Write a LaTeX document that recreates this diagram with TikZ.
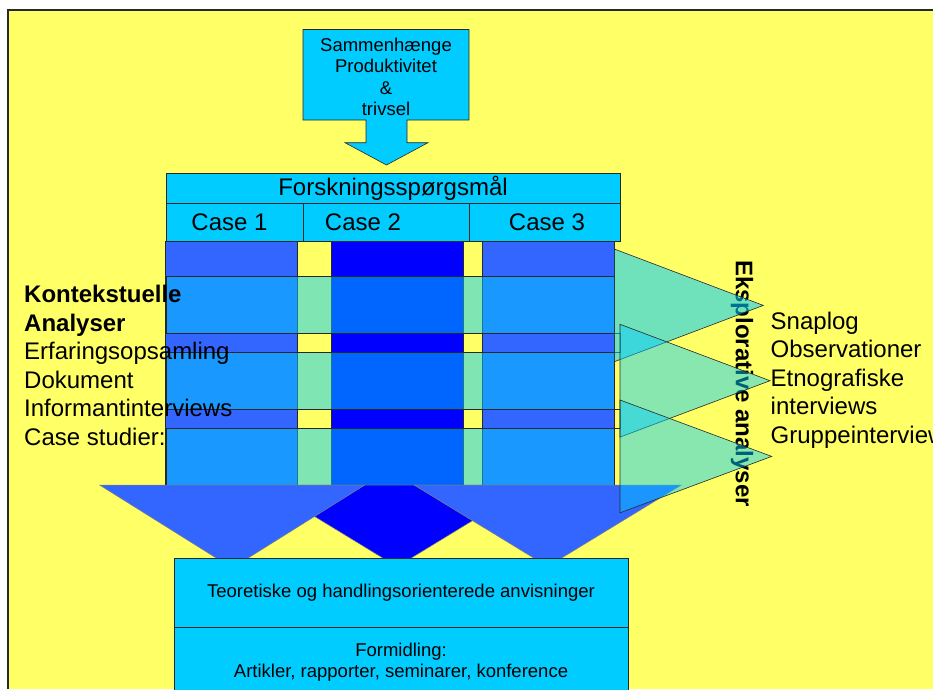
\documentclass[tikz,border=0pt]{standalone}
\usepackage{fontspec}
\setmainfont{Liberation Sans}
\usetikzlibrary{
    positioning,
    calc
}
\tikzset{
  cell/.style    = {draw=EdgeGray, fill=SlideCyan, line width=0.6pt, inner sep=0pt,
                    outer sep=0pt, align=center, font=\fontsize{24}{28.5}\selectfont},
  sblock/.style  = {draw=EdgeGray, fill=SlideCyan, line width=0.6pt, inner sep=0pt,
                    outer sep=0pt, align=center, font=\fontsize{18.5}{21.3}\selectfont},
  arrowbox/.style= {draw=EdgeGray, fill=SlideCyan, line width=0.6pt},
  column/.style  = {draw=EdgeGray, line width=0.6pt},
  glass/.style   = {draw=EdgeGray, line width=0.6pt, fill=SlideCyan, fill opacity=0.5},
  wedge/.style   = {draw=EdgeGray!60, line width=0.5pt},
  listtext/.style= {anchor=west, align=left, inner sep=0pt,
                    font=\fontsize{24}{28.5}\selectfont}
}
\definecolor{SlideYellow}{RGB}{255,255,102}
\definecolor{SlideCyan}{RGB}{0,204,255}
\definecolor{RoyalBlue}{RGB}{51,102,255}
\definecolor{DeepBlue}{RGB}{0,0,255}
\definecolor{EdgeGray}{RGB}{40,40,40}

\begin{document}
\begin{tikzpicture}[x=1pt, y=-1pt]
\useasboundingbox (0,0) rectangle (933,689);
\fill[white] (0,0) rectangle (933,689);
\fill[SlideYellow] (8,10) rectangle (933,689);
\draw[EdgeGray, line width=1.5pt] (8,689) -- (8,10) -- (933,10);

% theme box pointing down
\draw[arrowbox] (303,29.5) -- (469,29.5) -- (469,120) -- (407,120) -- (407,142.7)
  -- (428,142.7) -- (386.5,165) -- (345,142.7) -- (366,142.7) -- (366,120)
  -- (303,120) -- cycle;
\node[align=center, font=\fontsize{18.5}{21.3}\selectfont] (topic) at (386,77)
  {Sammenhænge\\Produktivitet\\\&\\trivsel};

\node[cell, anchor=north west, minimum width=454pt, minimum height=30pt] (fq) at (166,173) {Forskningsspørgsmål};
\node[cell, anchor=north west, minimum width=137pt, minimum height=38pt] (case1) at (fq.south west) {Case 1\hspace*{10pt}};
\node[cell, right=0pt of case1, minimum width=166pt, minimum height=38pt] (case2) {\raisebox{-2pt}{Case 2}\hspace*{46pt}};
\node[cell, right=0pt of case2, minimum width=151pt, minimum height=38pt] (case3) {\hspace*{5pt}Case 3};

\foreach \xa/\xb/\col in {165/297/RoyalBlue, 331/463/DeepBlue, 482/614/RoyalBlue}
  \draw[column, fill=\col] (\xa,241) rectangle (\xb,485);
\foreach \ya/\yb in {333.3/352.3, 409/428.3}
  \draw[column, fill=SlideYellow] (614,\ya) rectangle (620,\yb);
\foreach \ya/\yb in {276.7/333.3, 352.3/409, 428.3/485}
  \draw[glass] (166,\ya) rectangle (614,\yb);

\draw[wedge, fill=DeepBlue] (263,485) -- (531,485) -- (397,566.7) -- cycle;
\draw[wedge, fill=RoyalBlue] (99.6,485) -- (364.8,485) -- (232.2,568) -- cycle;
\draw[wedge, fill=RoyalBlue] (414,485) -- (681.3,485) -- (547.7,566.5) -- cycle;

\node[sblock, anchor=north west, minimum width=454pt, minimum height=69pt] (theory) at (174,558)
  {Teoretiske og handlingsorienterede anvisninger};
\node[sblock, anchor=north, minimum width=454pt, minimum height=70pt] (dissem) at (theory.south)
  {Formidling:\\Artikler, rapporter, seminarer, konference};

\node[rotate=-90, font=\bfseries\fontsize{24}{28.5}\selectfont] (explore) at (742,383.5) {Eksplorative analyser};

\draw[glass, fill opacity=0.56] (614.3,249) -- (763.3,305.4) -- (614.3,361.7) -- cycle;
\foreach \xl/\yt/\xt in {620/324.3/770, 620/400/771.7}
  \draw[glass, fill opacity=0.47] (\xl,\yt) -- (\xt,\yt+56.4) -- (\xl,\yt+112.8) -- cycle;

\node[listtext] (context) at (24,365.3)
  {\textbf{Kontekstuelle}\\\textbf{Analyser}\\Erfaringsopsamling\\Dokument\\Informantinterviews\\Case studier:};
\node[listtext] (methods) at (770.5,380)
  {Snaplog\\Observationer\\Etnografiske\\interviews\\Gruppeinterviews};
\end{tikzpicture}
\end{document}
